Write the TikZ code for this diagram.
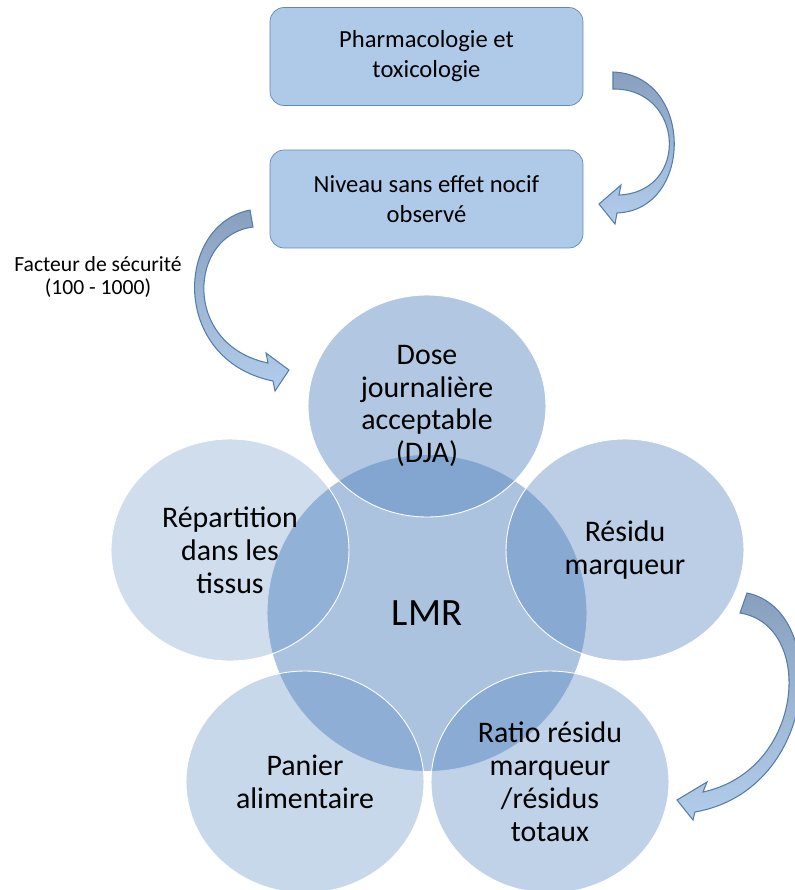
\documentclass[tikz,border=0pt]{standalone}
\usepackage{fontspec}
\setmainfont{Carlito}
\usetikzlibrary{shapes.geometric}
\definecolor{accent}{RGB}{79,129,189}
\definecolor{boxfill}{RGB}{175,202,233}
\definecolor{boxline}{RGB}{98,136,184}
\definecolor{arrowdark}{RGB}{136,160,190}
\definecolor{arrowlight}{RGB}{178,205,235}
\definecolor{arrowline}{RGB}{84,124,172}

\begin{document}
\begin{tikzpicture}[x=0.02cm, y=-0.02cm,
    stepbox/.style={draw=boxline, fill=boxfill, rounded corners=0.28cm, minimum width=6.26cm, minimum height=1.96cm, align=center, font=\fontsize{14}{17}\selectfont},
    bubble/.style={ellipse, draw=white, line width=0.5pt, fill=accent, text opacity=1, minimum width=4.76cm, minimum height=4.44cm, inner sep=0pt, align=center, font=\fontsize{17}{18.7}\selectfont},
    bendarrow/.style={draw=arrowline, line width=0.6pt, top color=arrowdark, bottom color=arrowlight}]
    \useasboundingbox (0,0) rectangle (795,890);

    \node[stepbox] (pharma) at (426.5,56.5) {Pharmacologie et\\toxicologie};
    \node[stepbox] (noael) at (426.5,199) {Niveau sans effet nocif\\observé};

    \node[font=\fontsize{12.3}{13}\selectfont, align=center] (factor) at (98,277) {Facteur de sécurité\\(100 - 1000)};

    % centre first, the others on top
    \node[bubble, fill opacity=0.48, minimum width=6.4cm, minimum height=6.34cm, font=\fontsize{22}{26}\selectfont] (lmr) at (427,613) {LMR};
    \node[bubble, fill opacity=0.44] (dja) at (427,406) {Dose\\journalière\\acceptable\\(DJA)};
    \node[bubble, fill opacity=0.39] (marker) at (625,550) {Résidu\\marqueur};
    \node[bubble, fill opacity=0.36] (ratio) at (550,782) {Ratio résidu\\marqueur\\/résidus\\totaux};
    \node[bubble, fill opacity=0.31] (basket) at (305,782) {Panier\\alimentaire};
    \node[bubble, fill opacity=0.27] (tissue) at (230,550) {Répartition\\dans les\\tissus};

    % curved block arrows
    \draw[bendarrow] (613,72) .. controls (694,75) and (694,210) .. (617,213) -- (615,224) -- (599,204) -- (621,185) -- (619,195) .. controls (690,192) and (684,88) .. (613,89) -- cycle;
    \draw[bendarrow] (250,210) .. controls (175,225) and (170,360) .. (273,381) -- (275,391) -- (289,370) -- (266,353) -- (268,363) .. controls (182,345) and (188,235) .. (253,227) -- cycle;
    \draw[bendarrow] (747,593) .. controls (830,610) and (820,790) .. (695,812) -- (693,820) -- (677,800) -- (707,782) -- (703,792) .. controls (805,770) and (815,625) .. (740,613) -- cycle;
\end{tikzpicture}
\end{document}
